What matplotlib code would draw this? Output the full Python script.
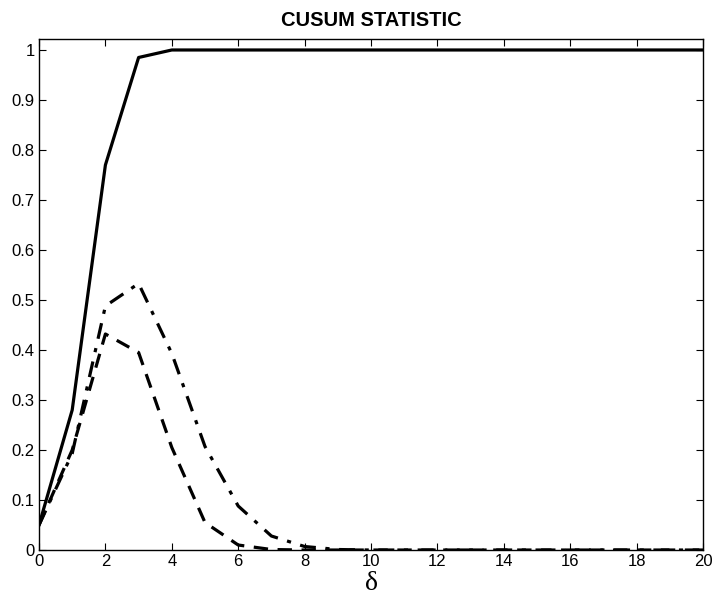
import numpy as np
import matplotlib
matplotlib.use("Agg")
import matplotlib.pyplot as plt

# =========================
# DADOS
# =========================
delta = np.arange(0, 21)

solida = [0.05, 0.28, 0.77, 0.985, 1.0, 1.0, 1.0, 1.0, 1.0, 1.0, 1.0,
          1.0, 1.0, 1.0, 1.0, 1.0, 1.0, 1.0, 1.0, 1.0, 1.0]
traco_ponto = [0.05, 0.193, 0.488, 0.533, 0.393, 0.207, 0.088, 0.028, 0.007, 0.001, 0.0,
               0.0, 0.0, 0.0, 0.0, 0.0, 0.0, 0.0, 0.0, 0.0, 0.0]
tracejada = [0.05, 0.2, 0.432, 0.395, 0.205, 0.055, 0.01, 0.001, 0.0, 0.0, 0.0,
             0.0, 0.0, 0.0, 0.0, 0.0, 0.0, 0.0, 0.0, 0.0, 0.0]

xticks = np.arange(0, 21, 2)
yticks = np.round(np.arange(0, 1.01, 0.1), 1)
ytick_labels = ["0"] + [f"{v:g}" for v in yticks[1:-1]] + ["1"]

# ===== CONFIG VISUAL =====
plt.rcParams.update({
    "font.family": "Liberation Sans",
    "xtick.labelsize": 12,
    "ytick.labelsize": 12,
    "xtick.direction": "in",
    "ytick.direction": "in",
    "xtick.top": True,
    "ytick.right": True,
})

fig = plt.figure(figsize=(7.17, 5.97), dpi=100)
ax = fig.add_axes([0.0544, 0.0787, 0.9261, 0.856])

ax.plot(delta, solida, color="black", linewidth=2.3, linestyle="-")
ax.plot(delta, traco_ponto, color="black", linewidth=2.3, linestyle=(0, (5, 3, 1.3, 3)))
ax.plot(delta, tracejada, color="black", linewidth=2.3, linestyle=(0, (4.5, 3)))

ax.set_xlim(0, 20)
ax.set_ylim(0, 1.022)
ax.set_xticks(xticks)
ax.set_yticks(yticks)
ax.set_yticklabels(ytick_labels)
ax.tick_params(length=5, width=0.8, pad=3)

for s in ax.spines.values():
    s.set_linewidth(1.0)

ax.set_title("CUSUM STATISTIC", fontsize=14.5, fontweight="bold", pad=9)
ax.set_xlabel("δ", fontsize=20, family="Liberation Serif", labelpad=1)

fig.savefig("out.png", dpi=100)
